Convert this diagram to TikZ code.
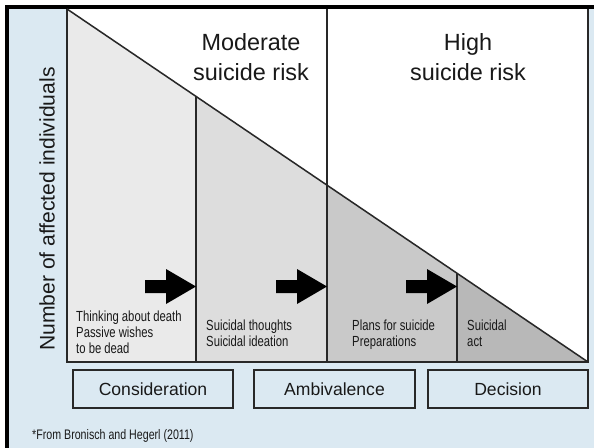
\documentclass[tikz,border=0pt]{standalone}
\usepackage{fontspec}
\setmainfont{Liberation Sans}
\newfontfamily\narrowfont[FakeStretch=0.77]{Liberation Sans}

\definecolor{panelblue}{RGB}{219,233,242}
\definecolor{stageone}{RGB}{234,234,234}
\definecolor{stagetwo}{RGB}{221,221,221}
\definecolor{stagethree}{RGB}{201,201,201}
\definecolor{stagefour}{RGB}{184,184,184}
\definecolor{linegray}{RGB}{40,40,40}
\definecolor{textgray}{RGB}{25,25,25}

\begin{document}
\begin{tikzpicture}[
    x=0.03cm, y=-0.03cm,
    every node/.style={text=textgray, inner sep=0pt},
    chartline/.style={draw=linegray, line width=1.3pt},
    risklabel/.style={font=\fontsize{20}{25.6}\selectfont, align=center, anchor=north},
    stagetext/.style={font=\fontsize{12.5}{13.3}\narrowfont, align=left, anchor=north west},
    phasebox/.style={rectangle, draw=linegray, line width=1.2pt, fill=panelblue,
        minimum width=4.8cm, minimum height=1.14cm, font=\fontsize{15}{18}\selectfont}
]

\useasboundingbox (0,0) rectangle (594,447);
\fill[white] (0,0) rectangle (594,447);

% ============ PANEL ============
\fill[panelblue] (7,7) rectangle (610,460);
\draw[black, line width=2.6pt] (7,460) -- (7,7) -- (610,7);

% chart corners
\coordinate (tl) at (67,9);
\coordinate (br) at (588,362);

% white chart area
\fill[white] (67,9) rectangle (588,362);

% ============ STAGE AREAS UNDER THE SLOPE ============
\fill[stageone]   (67,9)      -- (196,96.4)  -- (196,362) -- (67,362)  -- cycle;
\fill[stagetwo]   (196,96.4)  -- (327,185.2) -- (327,362) -- (196,362) -- cycle;
\fill[stagethree] (327,185.2) -- (457,273.2) -- (457,362) -- (327,362) -- cycle;
\fill[stagefour]  (457,273.2) -- (588,362)   -- (457,362) -- cycle;

% ============ LINES ============
\draw[chartline] (tl) -- (br);
\draw[chartline] (67,9) -- (67,362) -- (588,362) -- (588,9);
\draw[chartline] (196,96.4) -- (196,362);
\draw[chartline] (327,9) -- (327,362);
\draw[chartline] (457,273.2) -- (457,362);

% ============ RISK HEADINGS ============
\node[risklabel] (moderate) at (251,33) {Moderate\\suicide risk};
\node[risklabel] (high) at (468,33) {High\\suicide risk};

% ============ AXIS LABEL ============
\node[rotate=90, font=\fontsize{18}{21}\selectfont] (axis) at (47,209) {Number of affected individuals};

% ============ BLOCK ARROWS ============
\foreach \tx in {196,327,457}
    \fill[black] (\tx,286.5) -- ++(-30,-17.5) -- ++(0,11) -- ++(-21,0)
        -- ++(0,13) -- ++(21,0) -- ++(0,11) -- cycle;

% ============ STAGE TEXTS ============
\node[stagetext] (thinking) at (76,311) {Thinking about death\\Passive wishes\\to be dead};
\node[stagetext] (thoughts) at (206,320) {Suicidal thoughts\\Suicidal ideation};
\node[stagetext] (plans) at (352,320) {Plans for suicide\\Preparations};
\node[stagetext] (act) at (467,320) {Suicidal\\act};

% ============ PHASES ============
\node[phasebox] (consideration) at (153,389) {Consideration};
\node[phasebox, minimum width=4.83cm] (ambivalence) at (334.5,389) {Ambivalence};
\node[phasebox] (decision) at (508,389) {Decision};

% source note
\node[font=\fontsize{11.8}{13}\narrowfont, anchor=base west] (source) at (32,439) {*From Bronisch and Hegerl (2011)};

\end{tikzpicture}
\end{document}
